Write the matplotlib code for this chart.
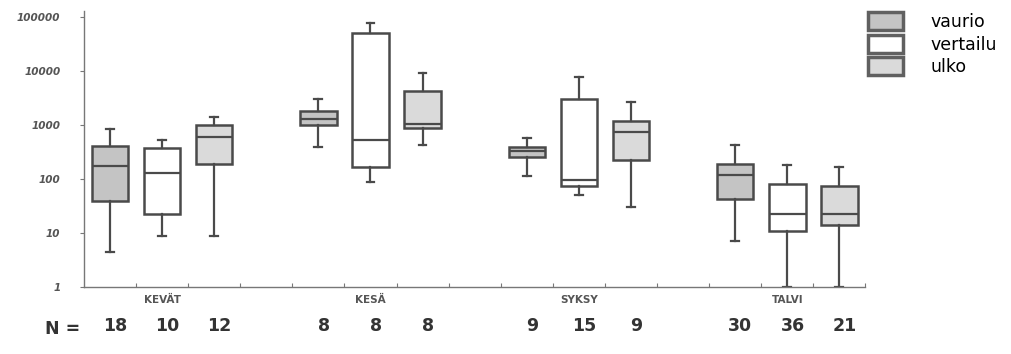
import matplotlib
matplotlib.use("Agg")
import matplotlib.pyplot as plt
from matplotlib.patches import Patch

seasons = ["KEVÄT", "KESÄ", "SYKSY", "TALVI"]
groups = ["vaurio", "vertailu", "ulko"]

# per box: order KEVÄT(vaurio, vertailu, ulko), KESÄ(...), SYKSY(...), TALVI(...)
whislo = [4.5, 9, 9,    400, 90, 420,    115, 50, 30,    7, 1, 1]
q1     = [40, 23, 190,  1020, 166, 870,  255, 76, 230,   43, 11, 14]
med    = [175, 130, 600, 1320, 530, 1030, 330, 98, 750,  120, 23, 23]
q3     = [410, 370, 1020, 1860, 51000, 4200, 390, 3100, 1200, 193, 81, 76]
whishi = [850, 520, 1420, 3100, 78000, 9400, 575, 7900, 2700, 435, 182, 170]
n_counts = [18, 10, 12, 8, 8, 8, 9, 15, 9, 30, 36, 21]

ytick_vals = [1, 10, 100, 1000, 10000, 100000]
ytick_labels = ["1", "10", "100", "1000", "10000", "100000"]

fills = {"vaurio": "#c4c4c4", "vertailu": "#ffffff", "ulko": "#dadada"}
edge = "#4a4a4a"

fig = plt.figure(figsize=(10.11, 3.54), dpi=100)
ax = fig.add_axes([0.083, 0.189, 0.773, 0.78])

positions = []
stats = []
colors = []
for si in range(len(seasons)):
    for gi, g in enumerate(groups):
        k = si * 3 + gi
        positions.append(si * 4 + gi)
        stats.append(dict(whislo=whislo[k], q1=q1[k], med=med[k], q3=q3[k],
                          whishi=whishi[k], fliers=[]))
        colors.append(fills[g])

bp = ax.bxp(stats, positions=positions, widths=0.7, patch_artist=True,
            showfliers=False,
            boxprops=dict(edgecolor=edge, linewidth=1.8),
            medianprops=dict(color=edge, linewidth=1.6),
            whiskerprops=dict(color=edge, linewidth=1.6),
            capprops=dict(color=edge, linewidth=1.6),
            capwidths=0.15)
for patch, c in zip(bp["boxes"], colors):
    patch.set_facecolor(c)

ax.set_yscale("log")
ax.set_ylim(1, 1.3e5)
ax.set_xlim(-0.5, 14.5)
ax.set_yticks(ytick_vals)
ax.set_yticklabels(ytick_labels, fontsize=7.5, color="#555555",
                   fontweight="bold", style="italic")
ax.yaxis.set_minor_locator(matplotlib.ticker.NullLocator())
ax.tick_params(axis="y", length=3, color="#777777", pad=14)

ax.set_xticks([p + 0.5 for p in range(15)])
ax.set_xticklabels([])
ax.tick_params(axis="x", length=3, color="#777777", direction="in")

for s in ["top", "right"]:
    ax.spines[s].set_visible(False)
for s in ["left", "bottom"]:
    ax.spines[s].set_color("#777777")
    ax.spines[s].set_linewidth(1.0)

trans = ax.get_xaxis_transform()
for si, name in enumerate(seasons):
    ax.text(si * 4 + 1, -0.03, name, transform=trans, ha="center", va="top",
            fontsize=7.5, color="#555555", fontweight="bold")

for p, n in zip(positions, n_counts):
    ax.text(p + 0.1, -0.11, str(n), transform=trans, ha="center", va="top",
            fontsize=12.5, color="#333333", fontweight="bold")
ax.text(-0.9, -0.12, "N =", transform=trans, ha="center", va="top",
        fontsize=12.5, color="#333333", fontweight="bold")

handles = [Patch(facecolor=fills[g], edgecolor="#606060", linewidth=2.5)
           for g in groups]
fig.legend(handles, groups, loc="upper left", bbox_to_anchor=(0.843, 1.01),
           frameon=False, fontsize=12.5, handlelength=2.0, handleheight=1.25,
           labelspacing=0.2, handletextpad=1.6)

fig.savefig("out.png", dpi=100)
